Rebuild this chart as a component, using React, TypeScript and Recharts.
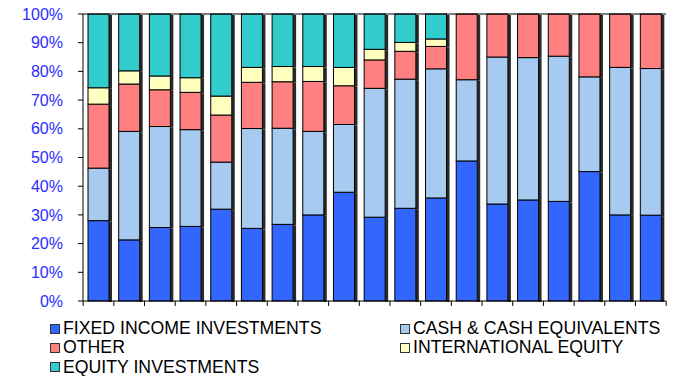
import { BarChart, Bar, XAxis, YAxis, ReferenceLine } from "recharts";

// one entry per bar (no category labels are shown on the chart)
const periods = [
  "1", "2", "3", "4", "5", "6", "7", "8", "9", "10",
  "11", "12", "13", "14", "15", "16", "17", "18", "19",
];

const fixedIncome = [28, 21.3, 25.6, 26, 32, 25.3, 26.7, 30, 37.9, 29.2, 32.3, 35.9, 48.8, 33.8, 35.2, 34.7, 45.1, 30, 29.9];
const cash = [18.3, 37.8, 35.2, 33.7, 16.4, 34.8, 33.5, 29.1, 23.6, 44.9, 45, 45, 28.3, 51.2, 49.6, 50.6, 33, 51.4, 51.1];
const other = [22.3, 16.5, 12.8, 13, 16.4, 16.1, 16.2, 17.4, 13.5, 9.9, 9.7, 7.8, 22.9, 15, 15.2, 14.7, 21.9, 18.6, 19];
const intlEquity = [5.7, 4.6, 4.8, 5.1, 6.6, 5.2, 5.3, 5.2, 6.4, 3.7, 3.1, 2.6, 0, 0, 0, 0, 0, 0, 0];
const equity = [25.7, 19.8, 21.6, 22.2, 28.6, 18.6, 18.3, 18.3, 18.6, 12.3, 9.9, 8.7, 0, 0, 0, 0, 0, 0, 0];

const yTicks = [0, 10, 20, 30, 40, 50, 60, 70, 80, 90, 100];

const series = [
  { key: "fixedIncome", name: "FIXED INCOME INVESTMENTS", color: "#3366ff" },
  { key: "cash", name: "CASH & CASH EQUIVALENTS", color: "#a6caf0" },
  { key: "other", name: "OTHER", color: "#ff8080" },
  { key: "intlEquity", name: "INTERNATIONAL EQUITY", color: "#ffffc0" },
  { key: "equity", name: "EQUITY INVESTMENTS", color: "#33cccc" },
];

const data = periods.map((p, i) => ({
  period: p,
  fixedIncome: fixedIncome[i],
  cash: cash[i],
  other: other[i],
  intlEquity: intlEquity[i],
  equity: equity[i],
}));

const FONT = "'Liberation Sans', Arial, sans-serif";
const STEP = 583 / periods.length;

// bar segment with the dark drop shadow on its right side
const ShadowBar = (props: any) => {
  const { x, y, width, height, fill } = props;
  if (!height || height <= 0) return null;
  return (
    <g>
      <rect x={x + width} y={y + 1} width={3} height={height} fill="#2a2a2a" />
      <rect x={x} y={y} width={width} height={height} fill={fill} stroke="#000" strokeWidth={1} />
    </g>
  );
};

// bottom segment also draws the x tick marks, which sit between categories
const BaseBar = (props: any) => {
  const { x, y, width, height, index } = props;
  const base = y + height;
  const left = x + width / 2 - STEP / 2;
  const right = x + width / 2 + STEP / 2;
  return (
    <g>
      <ShadowBar {...props} />
      <line x1={left} y1={base} x2={left} y2={base + 5} stroke="#000" />
      {index === periods.length - 1 && (
        <line x1={right} y1={base} x2={right} y2={base + 5} stroke="#000" />
      )}
    </g>
  );
};

const LegendGrid = () => (
  <div
    style={{
      position: "absolute",
      top: 319,
      left: 0,
      width: 679,
      display: "grid",
      gridTemplateColumns: "350px 270px",
      paddingLeft: 50,
      boxSizing: "border-box",
      fontFamily: FONT,
      fontSize: 17.7,
      lineHeight: "19.3px",
      color: "#000",
    }}
  >
    {series.map((s) => (
      <div key={s.key} style={{ display: "flex", alignItems: "center", whiteSpace: "nowrap" }}>
        <span
          style={{
            display: "inline-block",
            width: 8,
            height: 8,
            background: s.color,
            border: "1px solid #333",
            marginRight: 3,
          }}
        />
        {s.name}
      </div>
    ))}
  </div>
);

export default function App() {
  return (
    <div style={{ position: "absolute", left: 0, top: 0, width: 679, height: 376, background: "#fff" }}>
      <BarChart
        width={679}
        height={376}
        data={data}
        margin={{ top: 14, right: 13, left: 0, bottom: 45 }}
        barSize={21}
      >
        <XAxis
          dataKey="period"
          interval={0}
          tick={false}
          tickLine={false}
          height={30}
          axisLine={{ stroke: "#000" }}
        />
        <YAxis
          width={83}
          domain={[0, 100]}
          ticks={yTicks}
          interval={0}
          tickFormatter={(v) => `${v}%`}
          tickSize={5}
          tickMargin={15}
          tickLine={{ stroke: "#000" }}
          axisLine={{ stroke: "#000" }}
          tick={{ fill: "#2b2bff", fontSize: 16, fontFamily: FONT }}
        />
        <YAxis
          yAxisId="right"
          orientation="right"
          width={0}
          domain={[0, 100]}
          tick={false}
          tickLine={false}
          axisLine={{ stroke: "#000" }}
        />
        <ReferenceLine y={100} stroke="#000" />
        {series.map((s, i) => (
          <Bar
            key={s.key}
            dataKey={s.key}
            name={s.name}
            stackId="a"
            fill={s.color}
            shape={i === 0 ? <BaseBar /> : <ShadowBar />}
            isAnimationActive={false}
          />
        ))}
      </BarChart>
      <LegendGrid />
    </div>
  );
}
